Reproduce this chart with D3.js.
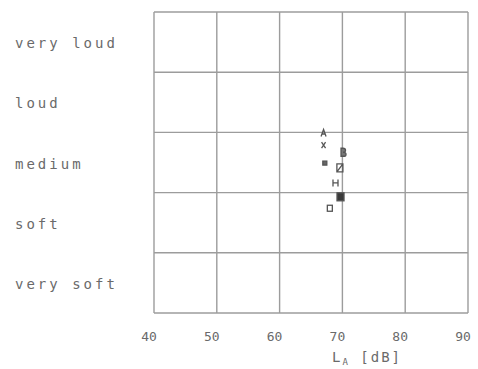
<!DOCTYPE html>
<html>
<head>
<meta charset="utf-8">
<script src="https://cdn.jsdelivr.net/npm/d3@7"></script>
<style>
  body { margin: 0; background: #fff; }
  svg { display: block; }
</style>
</head>
<body>
<div id="chart"></div>
<script>
// loudness categories, bottom to top
const categories = ["very soft", "soft", "medium", "loud", "very loud"];
const xTicks = [40, 50, 60, 70, 80, 90];

// mean ratings (1 = very soft ... 5 = very loud) against level L_A
const pointLevel = [67.0, 67.0, 67.2, 70.1, 69.6, 68.9, 69.7, 68.0];
const pointRating = [3.49, 3.29, 2.99, 3.17, 2.91, 2.66, 2.43, 2.24];
const pointSymbol = ["A", "X", "sq", "B", "dsq", "H", "fsq", "osq"];

const width = 478, height = 369;
const margin = {top: 12, right: 10, bottom: 56, left: 154};

const svg = d3.select("#chart")
  .append("svg")
  .attr("width", width)
  .attr("height", height);

const x = d3.scaleLinear()
  .domain([40, 90])
  .range([margin.left, width - margin.right]);

const y = d3.scaleLinear()
  .domain([0.5, categories.length + 0.5])
  .range([height - margin.bottom, margin.top]);

const lineColor = "#9c9c9c";
const textColor = "#6a6a6a";

// grid
const grid = svg.append("g")
  .attr("stroke", lineColor)
  .attr("stroke-width", 1.4)
  .attr("fill", "none");

grid.selectAll("line.v")
  .data(xTicks)
  .join("line")
  .attr("class", "v")
  .attr("x1", d => x(d)).attr("x2", d => x(d))
  .attr("y1", y.range()[1]).attr("y2", y.range()[0]);

grid.selectAll("line.h")
  .data(d3.range(categories.length + 1).map(i => i + 0.5))
  .join("line")
  .attr("class", "h")
  .attr("x1", x.range()[0]).attr("x2", x.range()[1])
  .attr("y1", d => y(d)).attr("y2", d => y(d));

// category labels
svg.append("g")
  .attr("fill", textColor)
  .attr("font-family", "DejaVu Sans Mono, monospace")
  .attr("font-size", 14)
  .attr("letter-spacing", 3)
  .selectAll("text")
  .data(categories)
  .join("text")
  .attr("x", 15)
  .attr("y", (d, i) => y(i + 1) + 2)
  .attr("dominant-baseline", "middle")
  .text(d => d);

// x tick labels (plotter put them slightly left of the grid lines)
svg.append("g")
  .attr("fill", textColor)
  .attr("font-family", "DejaVu Sans Mono, monospace")
  .attr("font-size", 13)
  .attr("text-anchor", "middle")
  .selectAll("text")
  .data(xTicks)
  .join("text")
  .attr("x", d => x(d) - 5)
  .attr("y", height - margin.bottom + 28)
  .text(d => d);

// axis title
const title = svg.append("text")
  .attr("fill", textColor)
  .attr("font-family", "DejaVu Sans Mono, monospace")
  .attr("font-size", 14)
  .attr("letter-spacing", 2)
  .attr("text-anchor", "middle")
  .attr("x", 367)
  .attr("y", 362);
title.append("tspan").text("L");
title.append("tspan").attr("font-size", 9).attr("dy", 3).text("A");
title.append("tspan").attr("dy", -3).text(" [dB]");

// data markers
const marks = svg.append("g")
  .attr("fill", "none")
  .attr("stroke", "#555")
  .attr("stroke-width", 1.3);

const pts = pointLevel.map((v, i) => ({level: v, rating: pointRating[i], sym: pointSymbol[i]}));

marks.selectAll("g")
  .data(pts)
  .join("g")
  .attr("transform", d => `translate(${x(d.level)},${y(d.rating)})`)
  .each(function(d) {
    const g = d3.select(this);
    if (d.sym === "A") {
      g.append("path").attr("d", "M-2.5,3.5L0,-3.5L2.5,3.5M-1.5,1H1.5");
    } else if (d.sym === "X") {
      g.append("path").attr("d", "M-2,-3L2,3M2,-3L-2,3");
    } else if (d.sym === "sq") {
      g.append("rect").attr("x", -2).attr("y", -2).attr("width", 4).attr("height", 4)
        .attr("fill", "#666");
    } else if (d.sym === "B") {
      g.append("path").attr("d", "M-2,-4V4H1.5Q3,4 3,2Q3,0 0,0Q2.5,0 2.5,-2Q2.5,-4 0,-4Z")
        .attr("fill", "#777");
    } else if (d.sym === "dsq") {
      g.append("path").attr("d", "M-3,-4H3V4H-3ZM-3,4L3,-4");
    } else if (d.sym === "H") {
      g.append("path").attr("d", "M-2.5,-3.5V3.5M2.5,-3.5V3.5M-2.5,0H2.5");
    } else if (d.sym === "fsq") {
      g.append("rect").attr("x", -3.5).attr("y", -4).attr("width", 7).attr("height", 8)
        .attr("fill", "#3a3a3a");
    } else if (d.sym === "osq") {
      g.append("rect").attr("x", -2.5).attr("y", -3).attr("width", 5).attr("height", 6);
    }
  });
</script>
</body>
</html>
